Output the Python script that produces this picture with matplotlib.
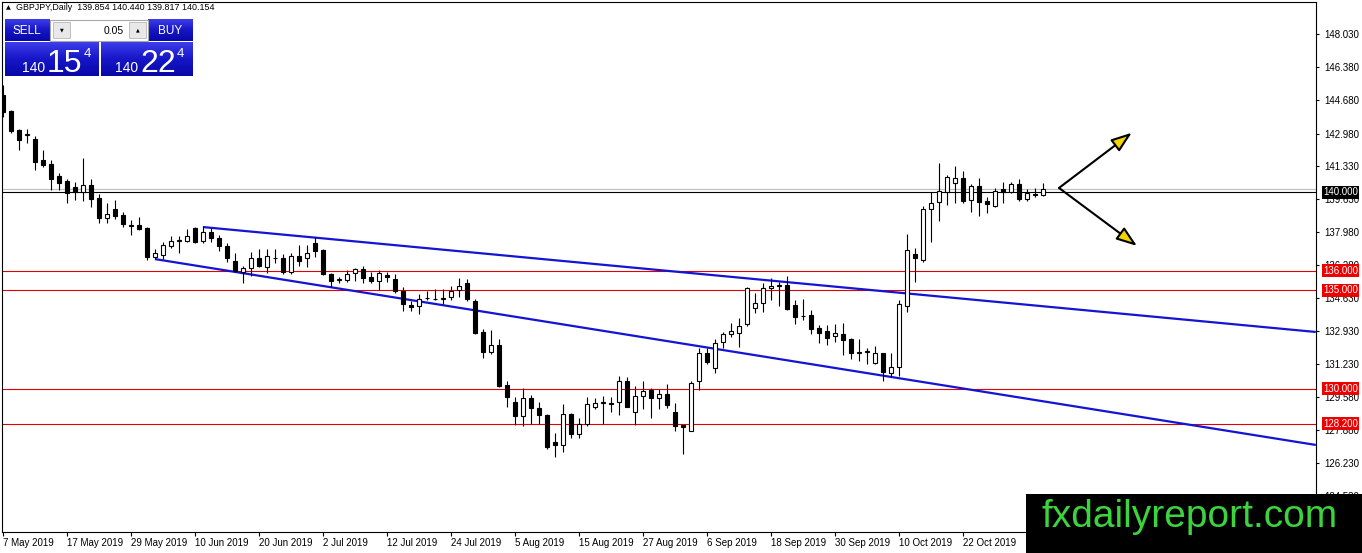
### modules ###

import numpy as np
import pandas as pd
from matplotlib import pyplot as plt
from matplotlib.patches import Rectangle
from matplotlib.colors import LinearSegmentedColormap

### config ###

config = {
    'font.family': ['Liberation Sans', 'DejaVu Sans'],
    'font.size': 7.0,
    'axes.linewidth': 0.8,
    'axes.edgecolor': 'black',
    'xtick.color': 'black',
    'ytick.color': 'black',
    'savefig.facecolor': 'white',
}
plt.rcParams.update(config)

### chart data (GBPJPY daily) ###

opens = [
    144.93, 144.12, 143.16, 142.92, 142.70, 141.63, 141.43, 140.82, 140.57, 140.26,
    140.01, 140.36, 139.70, 138.69, 139.14, 138.84, 138.28, 138.33, 138.18, 136.70,
    136.81, 137.26, 137.50, 137.52, 138.18, 137.52, 137.98, 137.67, 137.26, 136.50,
    135.94, 136.14, 136.65, 136.19, 136.62, 136.65, 135.94, 136.75, 136.65, 137.42,
    137.06, 135.84, 135.53, 135.53, 135.89, 136.09, 135.69, 135.48, 135.79, 135.58,
    134.98, 134.27, 134.21, 134.60, 134.55, 134.57, 134.67, 135.03, 135.38, 134.47,
    132.89, 131.88, 132.23, 130.20, 129.34, 128.58, 129.54, 129.03, 128.68, 127.26,
    127.15, 128.73, 127.71, 128.22, 129.08, 129.27, 129.24, 129.34, 130.36, 128.83,
    129.64, 129.95, 129.54, 129.74, 128.83, 128.17, 127.86, 130.36, 131.83, 131.06,
    132.39, 132.79, 132.84, 133.30, 134.11, 134.37, 135.13, 135.21, 135.28, 134.27,
    133.71, 133.76, 133.10, 132.94, 132.69, 132.79, 132.54, 131.81, 131.85, 131.32,
    131.83, 130.81, 131.12, 134.21, 136.86, 136.55, 139.14, 139.50, 140.01, 140.46,
    140.72, 139.60, 140.31, 139.55, 139.30, 140.16, 140.01, 140.41, 139.65, 139.85,
    139.854,
]
highs = [
    145.44, 144.17, 143.21, 143.21, 142.85, 142.14, 141.63, 140.97, 140.67, 140.52,
    141.73, 140.67, 139.91, 139.45, 139.60, 138.99, 138.58, 138.74, 138.23, 137.11,
    137.47, 137.77, 137.77, 138.13, 138.23, 138.28, 138.18, 137.82, 137.42, 136.91,
    136.24, 136.96, 137.11, 137.11, 137.11, 136.86, 136.91, 137.31, 137.31, 137.72,
    137.11, 135.89, 135.69, 136.04, 136.14, 136.24, 135.94, 136.04, 135.94, 135.84,
    135.18, 134.47, 134.83, 134.98, 135.08, 135.08, 135.23, 135.64, 135.58, 134.57,
    133.05, 133.00, 132.54, 130.41, 129.59, 130.05, 129.69, 129.34, 128.73, 127.76,
    129.19, 128.78, 128.48, 129.59, 129.54, 129.64, 129.59, 130.66, 130.61, 130.15,
    130.36, 130.05, 130.00, 130.25, 129.29, 128.17, 130.41, 132.08, 132.08, 132.54,
    132.89, 133.35, 133.61, 135.18, 134.88, 135.38, 135.64, 135.43, 135.74, 134.52,
    134.57, 134.01, 133.25, 133.25, 133.30, 133.35, 132.59, 132.54, 132.08, 132.18,
    131.83, 131.83, 134.52, 137.87, 137.16, 139.30, 140.01, 141.48, 140.87, 141.33,
    141.07, 140.41, 140.72, 139.76, 140.21, 140.52, 140.52, 140.67, 140.16, 140.21,
    140.440,
]
lows = [
    143.82, 143.00, 142.14, 142.50, 141.12, 141.28, 140.11, 140.11, 139.45, 139.60,
    139.55, 139.24, 138.43, 138.43, 138.63, 138.23, 137.82, 138.08, 136.55, 136.60,
    136.60, 137.16, 136.91, 137.47, 137.42, 137.42, 137.47, 137.01, 136.45, 135.94,
    135.38, 135.74, 136.19, 135.89, 136.40, 135.84, 135.84, 136.24, 136.19, 136.70,
    135.79, 135.18, 135.38, 135.43, 135.48, 135.38, 135.38, 135.02, 135.43, 134.88,
    133.96, 133.96, 133.81, 134.52, 134.52, 134.32, 134.52, 134.67, 134.47, 132.79,
    131.57, 131.78, 130.10, 129.08, 128.17, 128.12, 128.22, 128.22, 126.90, 126.54,
    126.75, 127.46, 127.46, 128.12, 128.98, 128.22, 128.83, 128.68, 129.08, 128.17,
    128.98, 128.48, 128.98, 129.03, 127.86, 126.65, 127.86, 129.95, 131.27, 130.81,
    132.08, 132.64, 132.13, 133.20, 133.86, 133.91, 134.52, 134.21, 134.01, 133.30,
    133.50, 132.79, 132.33, 132.23, 132.39, 131.73, 131.52, 131.42, 131.27, 131.27,
    130.36, 130.61, 130.66, 133.91, 135.43, 136.45, 137.47, 138.53, 139.35, 139.45,
    139.45, 138.99, 138.79, 138.94, 139.24, 139.45, 139.96, 139.55, 139.55, 139.76,
    139.817,
]
closes = [
    144.07, 143.11, 142.65, 142.95, 141.53, 141.38, 140.67, 140.46, 139.96, 140.01,
    140.36, 139.65, 138.69, 138.89, 138.79, 138.38, 138.30, 138.13, 136.70, 136.91,
    137.32, 137.52, 137.54, 137.77, 137.47, 137.98, 137.67, 137.26, 136.65, 135.99,
    136.14, 136.65, 136.24, 136.75, 136.66, 135.94, 136.75, 136.50, 136.91, 137.01,
    135.84, 135.48, 135.56, 135.84, 136.09, 135.64, 135.48, 135.89, 135.69, 134.98,
    134.32, 134.16, 134.57, 134.62, 134.57, 134.62, 134.98, 135.23, 134.57, 132.84,
    131.88, 132.23, 130.15, 129.59, 128.58, 129.54, 129.03, 128.63, 127.05, 127.15,
    128.73, 127.71, 128.22, 129.19, 129.29, 129.31, 129.22, 130.36, 129.08, 129.64,
    129.90, 129.54, 129.74, 129.14, 128.12, 128.02, 130.30, 131.83, 131.37, 132.33,
    132.79, 132.94, 133.20, 135.13, 134.37, 135.13, 135.23, 135.25, 134.06, 133.66,
    133.69, 133.05, 132.84, 132.59, 132.84, 132.49, 131.83, 131.85, 131.90, 131.83,
    130.86, 131.12, 134.32, 137.06, 136.65, 139.14, 139.45, 140.06, 140.77, 140.72,
    139.55, 140.31, 139.50, 139.40, 140.06, 140.01, 140.41, 139.65, 139.96, 139.88,
    140.154,
]

# date labels, one every 8 bars
date_labels = [
    '7 May 2019', '17 May 2019', '29 May 2019', '10 Jun 2019', '20 Jun 2019',
    '2 Jul 2019', '12 Jul 2019', '24 Jul 2019', '5 Aug 2019', '15 Aug 2019',
    '27 Aug 2019', '6 Sep 2019', '18 Sep 2019', '30 Sep 2019', '10 Oct 2019',
    '22 Oct 2019', '1 Nov 2019',
]
bars_per_label = 8

price_ticks = [148.03, 146.38, 144.68, 142.98, 141.33, 139.63, 137.98, 136.28,
               134.63, 132.93, 131.23, 129.58, 127.88, 126.23, 124.53]

red_levels = [136.0, 135.0, 130.0, 128.2]
black_level = 140.0
ask = 140.224
lot = 0.05

# channel lines: (bar, price) at start and at the right edge
upper_channel = ([25, 164.1], [138.22, 132.88])
lower_channel = ([19, 164.1], [136.59, 127.13])

# forecast arrows: common start and two tips
arrow_start = (132.0, 140.21)
arrow_tips = [(141.1, 143.02), (141.75, 137.26)]

### figure ###

W, H = 1362, 553
fig = plt.figure(figsize=(W / 100, H / 100), dpi=100)
ax = fig.add_axes([2 / W, (H - 532) / H, (1316 - 2) / W, (532 - 2) / H])
ax.set_xlim(-0.125, 164.125)
ax.set_ylim(122.70, 149.674)

df = pd.DataFrame({'open': opens, 'high': highs, 'low': lows, 'close': closes})
idx = np.arange(len(df))
up = (df['close'] >= df['open']).values

# horizontal levels
ax.axhline(closes[-1], color='#c0c0c0', lw=0.9, zorder=1)
ax.axhline(black_level, color='black', lw=0.8, zorder=1)
for lv in red_levels:
    ax.axhline(lv, color='#e00000', lw=0.8, zorder=1)

# channel
ax.plot(*upper_channel, color='#1414d2', lw=1.6, zorder=2, solid_capstyle='butt')
ax.plot(*lower_channel, color='#1414d2', lw=1.6, zorder=2, solid_capstyle='butt')

# candles
ax.vlines(idx, df['low'], df['high'], color='black', lw=0.8, zorder=3)
body = (df['close'] - df['open']).abs()
ax.bar(idx[up], body[up], bottom=df['open'][up], width=0.62,
       color='white', edgecolor='black', lw=0.8, zorder=4)
ax.bar(idx[~up], body[~up], bottom=df['close'][~up], width=0.62,
       color='black', edgecolor='black', lw=0.8, zorder=4)

# arrows
for tip in arrow_tips:
    ax.annotate('', xy=tip, xytext=arrow_start, annotation_clip=False,
                arrowprops=dict(arrowstyle='-|>,head_length=0.9,head_width=0.32',
                                mutation_scale=14, fc='#f2d400', ec='black',
                                lw=1.5, shrinkA=0, shrinkB=0))

# axes look
ax.set_xticks(np.arange(len(date_labels)) * bars_per_label, labels=date_labels, ha='left')
ax.tick_params(axis='x', direction='out', length=3, width=0.8, pad=1.5, labelsize=7)
ax.yaxis.tick_right()
ax.set_yticks(price_ticks, labels=[f'{t:.3f}' for t in price_ticks])
ax.tick_params(axis='y', direction='out', length=2.2, width=0.8, pad=3.5, labelsize=7)

# price boxes on the scale (they sit over the nearby scale labels, as in MT4)
def scale_box(price, color):
    ax.annotate(f'{price:.3f}', xy=(1, price), xycoords=('axes fraction', 'data'),
                xytext=(7, 0), textcoords='offset pixels', ha='left', va='center',
                color='white', fontsize=7, annotation_clip=False, zorder=6,
                bbox=dict(boxstyle='square,pad=0.15', fc=color, ec='none'))

scale_box(black_level, 'black')
for lv in red_levels:
    scale_box(lv, '#ee0000')

### overlay: header, trade panel, watermark (pixel coords) ###

ov = fig.add_axes([0, 0, 1, 1], zorder=10)
ov.set_facecolor('none')
ov.axis('off')

blue = LinearSegmentedColormap.from_list('btn', ['#3c3ce8', '#1616c8', '#0808a8'])

def blue_box(x0, y0, x1, y1):
    ov.imshow(np.linspace(0, 1, 40).reshape(-1, 1), cmap=blue, aspect='auto',
              extent=(x0, x1, y1, y0), zorder=1, interpolation='bilinear')

ov.text(6, 7.5, '▲', fontsize=4.5, va='center', family='DejaVu Sans')
ov.text(16, 7.5, f'GBPJPY,Daily  {opens[-1]:.3f} {highs[-1]:.3f} {lows[-1]:.3f} {closes[-1]:.3f}',
        fontsize=6.4, va='center')

# sell / buy buttons
blue_box(5, 19, 50, 41)
blue_box(148, 19, 193, 41)
blue_box(5, 42, 99, 76)
blue_box(101, 42, 193, 76)
ov.text(27, 30.5, 'SELL', color='white', fontsize=8.5, ha='center', va='center')
ov.text(170, 30.5, 'BUY', color='white', fontsize=8.5, ha='center', va='center')

# lot spinner
ov.add_patch(Rectangle((50, 20), 98, 21, fc='white', ec='#a8a8a8', lw=0.8, zorder=2))
ov.add_patch(Rectangle((53, 22), 17, 16, fc='#e8e8e8', ec='#b8b8b8', lw=0.6, zorder=3))
ov.add_patch(Rectangle((129, 22), 17, 16, fc='#e8e8e8', ec='#b8b8b8', lw=0.6, zorder=3))
ov.text(61.5, 30, '▼', fontsize=3.5, ha='center', va='center', family='DejaVu Sans', zorder=4)
ov.text(137.5, 30, '▲', fontsize=3.5, ha='center', va='center', family='DejaVu Sans', zorder=4)
ov.text(124, 30.5, f'{lot:.2f}', fontsize=7.5, ha='right', va='center', zorder=4)

# quotes, split MT4 style: big figure, pips, fraction
for price, x0 in [(closes[-1], 22), (ask, 115)]:
    s = f'{price:.3f}'
    ov.text(x0, 72, s[:3], color='white', fontsize=10, va='baseline', zorder=4)
    ov.text(x0 + 25, 72.5, s[4:6], color='white', fontsize=23, va='baseline', zorder=4)
    ov.text(x0 + 62, 48, s[6], color='white', fontsize=9.5, va='top', zorder=4)

# watermark
ov.add_patch(Rectangle((1026, 494), 336, 59, fc='black', ec='none', zorder=5))
ov.text(1041, 527, 'fxdailyreport.com', color='#3cd43c', fontsize=28,
        va='baseline', ha='left', zorder=6)

ov.set_xlim(0, W)
ov.set_ylim(H, 0)

plt.savefig('out.png', dpi=100)
